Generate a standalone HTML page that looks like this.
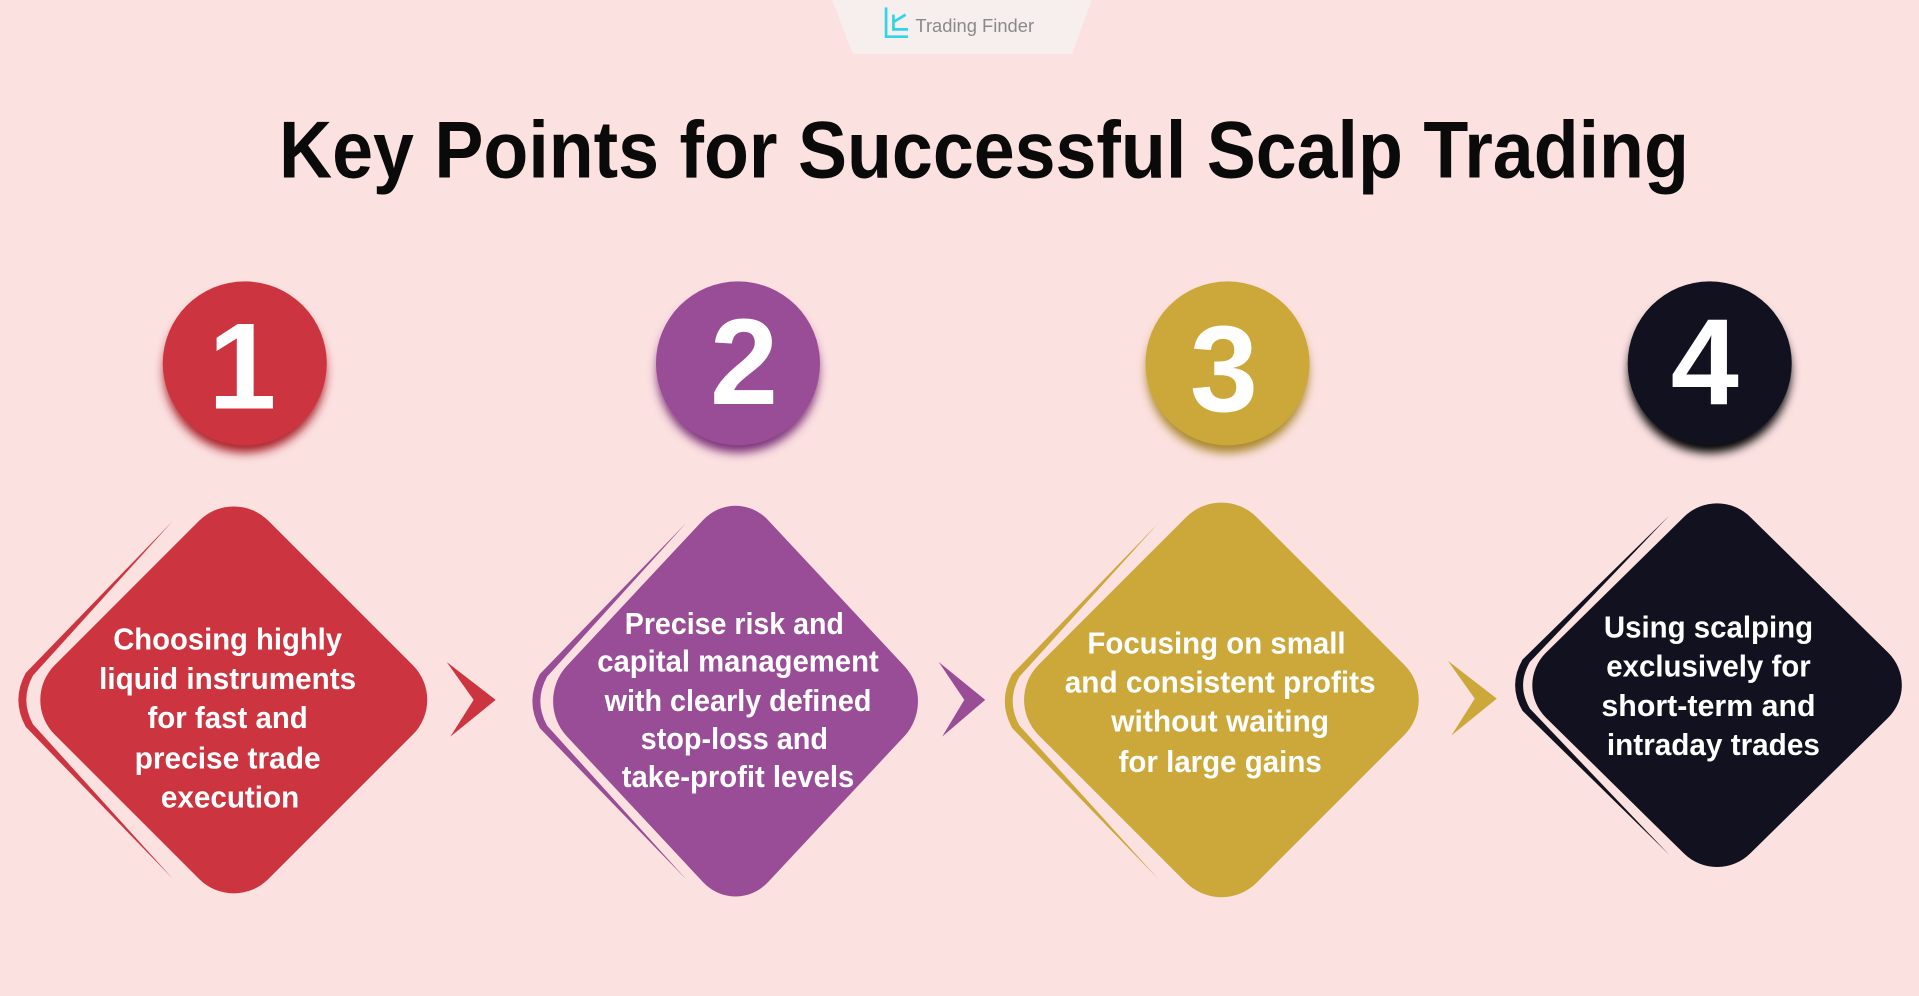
<!DOCTYPE html>
<html><head><meta charset="utf-8"><style>
html,body{margin:0;padding:0;background:#fce1e1;}
svg{display:block;}
text{font-family:"Liberation Sans",Arial,sans-serif;}
</style></head><body>
<svg width="1919" height="996" viewBox="0 0 1568 814" preserveAspectRatio="none" xmlns="http://www.w3.org/2000/svg">
<defs>
<filter id="bl" x="-30%" y="-30%" width="160%" height="160%"><feGaussianBlur stdDeviation="4"/></filter>
<g id="dia"><rect x="-123.5" y="-123.5" width="247" height="247" rx="40" transform="rotate(45)"/></g>
<path id="cres" d="M -52,-146 L -172,-22 Q -184,0 -172,22 L -52,146 L -166,20 Q -177,0 -166,-20 Z"/>
<path id="chev" d="M 0,-31 L 40,0 L 3,30 L 22,0 Z"/>
</defs>
<rect width="1568" height="814" fill="#fce1e1"/>
<path d="M 680,0 L 892,0 L 876,44 L 697,44 Z" fill="#f7eeee"/>
<g fill="none" stroke="#2fd6e6" stroke-width="2.2">
<path d="M 724,6 L 724,30 L 742,30"/><path d="M 730,12 L 730,24 L 742,24"/><path d="M 730,18 L 740,12"/>
</g>
<text x="748" y="26" font-size="15" fill="#8a8a8a">Trading Finder</text>
<text x="804" y="145" font-size="66" font-weight="bold" fill="#0a0a0a" text-anchor="middle" textLength="1152" lengthAdjust="spacingAndGlyphs">Key Points for Successful Scalp Trading</text>
<g font-weight="bold" font-size="100" fill="#fff" text-anchor="middle">
<circle cx="200" cy="304" r="66" fill="#a8202c" filter="url(#bl)"/><circle cx="200" cy="297" r="67" fill="#cc3440"/>
<text x="198" y="334" fill="#fff">1</text>
<circle cx="603" cy="304" r="66" fill="#7a3078" filter="url(#bl)"/><circle cx="603" cy="297" r="67" fill="#9a4d97"/>
<text x="608" y="330" fill="#fff">2</text>
<circle cx="1003" cy="304" r="66" fill="#a8862a" filter="url(#bl)"/><circle cx="1003" cy="297" r="67" fill="#cca83a"/>
<text x="1000" y="336" fill="#fff">3</text>
<circle cx="1397" cy="304" r="66" fill="#000" filter="url(#bl)"/><circle cx="1397" cy="297" r="67" fill="#11111f"/>
<text x="1393" y="330" fill="#fff">4</text>
</g>
<g fill="#cc3440">
<use href="#dia" transform="translate(191,572)"/>
<use href="#cres" transform="translate(193,572)"/>
<use href="#chev" transform="translate(365,572)"/>
</g>
<g fill="#9a4d97">
<use href="#dia" transform="translate(601,573) scale(0.943,1.01)"/>
<use href="#cres" transform="translate(613,573)"/>
<use href="#chev" transform="translate(767,572) scale(0.95,1)"/>
</g>
<g fill="#cca83a">
<use href="#dia" transform="translate(998,572) scale(1.02,1.02)"/>
<use href="#cres" transform="translate(999,573)"/>
<use href="#chev" transform="translate(1183,571)"/>
</g>
<g fill="#11111f">
<use href="#dia" transform="translate(1403,560) scale(0.955,0.94)"/>
<use href="#cres" transform="translate(1416,560) scale(1,0.95)"/>
</g>
<g fill="#fff" font-weight="bold" font-size="25" text-anchor="middle">
<text x="186" y="531" textLength="187" lengthAdjust="spacingAndGlyphs">Choosing highly</text>
<text x="186" y="563" textLength="210" lengthAdjust="spacingAndGlyphs">liquid instruments</text>
<text x="186" y="595" textLength="131" lengthAdjust="spacingAndGlyphs">for fast and</text>
<text x="186" y="628" textLength="152" lengthAdjust="spacingAndGlyphs">precise trade</text>
<text x="188" y="660" textLength="113" lengthAdjust="spacingAndGlyphs">execution</text>
<text x="600" y="518" textLength="179" lengthAdjust="spacingAndGlyphs">Precise risk and</text>
<text x="603" y="549" textLength="230" lengthAdjust="spacingAndGlyphs">capital management</text>
<text x="603" y="581" textLength="218" lengthAdjust="spacingAndGlyphs">with clearly defined</text>
<text x="600" y="612" textLength="153" lengthAdjust="spacingAndGlyphs">stop-loss and</text>
<text x="603" y="643" textLength="190" lengthAdjust="spacingAndGlyphs">take-profit levels</text>
<text x="994" y="534" textLength="211" lengthAdjust="spacingAndGlyphs">Focusing on small</text>
<text x="997" y="566" textLength="254" lengthAdjust="spacingAndGlyphs">and consistent profits</text>
<text x="997" y="598" textLength="178" lengthAdjust="spacingAndGlyphs">without waiting</text>
<text x="997" y="631" textLength="166" lengthAdjust="spacingAndGlyphs">for large gains</text>
<text x="1396" y="521" textLength="171" lengthAdjust="spacingAndGlyphs">Using scalping</text>
<text x="1396" y="553" textLength="167" lengthAdjust="spacingAndGlyphs">exclusively for</text>
<text x="1396" y="585" textLength="175" lengthAdjust="spacingAndGlyphs">short-term and</text>
<text x="1400" y="617" textLength="174" lengthAdjust="spacingAndGlyphs">intraday trades</text>
</g>
</svg>
</body></html>
